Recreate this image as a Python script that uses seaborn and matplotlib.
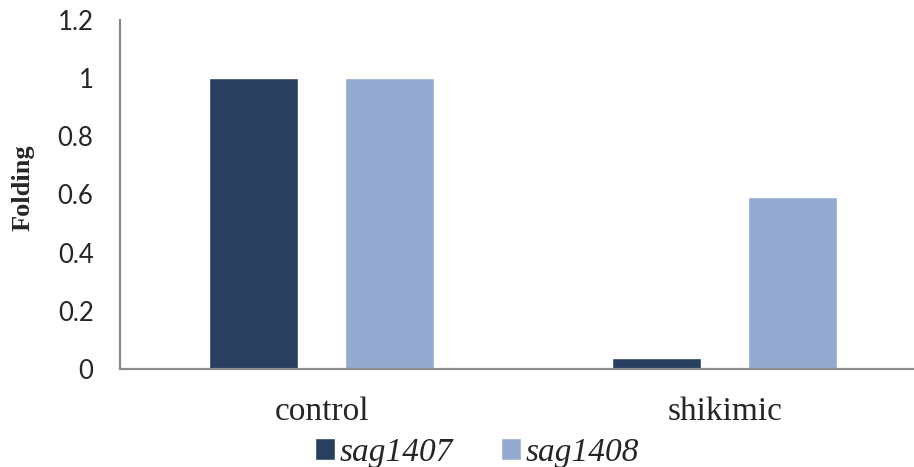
import matplotlib
matplotlib.use("Agg")
import matplotlib.pyplot as plt
import seaborn as sns
import pandas as pd

categories = ["control", "shikimic"]
series_names = ["sag1407", "sag1408"]
sag1407 = [1.0, 0.038]
sag1408 = [1.0, 0.593]
yticks = [0, 0.2, 0.4, 0.6, 0.8, 1.0, 1.2]
ytick_labels = ["0", "0.2", "0.4", "0.6", "0.8", "1", "1.2"]

df = pd.DataFrame({
    "category": categories * 2,
    "gene": [series_names[0]] * 2 + [series_names[1]] * 2,
    "value": sag1407 + sag1408,
})

sns.set_theme(style="white")
plt.rcParams["font.family"] = ["Liberation Serif", "DejaVu Serif"]

fig = plt.figure(figsize=(9.14, 4.67), dpi=100)
ax = fig.add_axes([120 / 914, 1 - 369 / 467, 794 / 914, 349 / 467])

palette = {"sag1407": "#283F5F", "sag1408": "#95AAD1"}
sns.barplot(data=df, x="category", y="value", hue="gene", order=categories,
            hue_order=series_names, palette=palette, width=0.676, gap=0.35,
            saturation=1, ax=ax, legend=True)

ax.set_xlim(-0.5, 1.47)
ax.set_ylim(0, 1.2)
ax.set_yticks(yticks)
ax.set_yticklabels(ytick_labels, fontfamily="Lato", fontsize=18.5)
ax.tick_params(axis="y", length=0, pad=19)
ax.tick_params(axis="x", length=0, pad=20, labelsize=24)
for lab in ax.get_xticklabels():
    lab.set_fontfamily("Liberation Serif")

ax.set_xlabel("")
ax.set_ylabel("Folding", fontsize=19, fontweight="bold", fontfamily="Liberation Serif")
ax.yaxis.set_label_coords(-0.108, 0.52)

for s in ["top", "right"]:
    ax.spines[s].set_visible(False)
for s in ["left", "bottom"]:
    ax.spines[s].set_color("#8C8C8C")
    ax.spines[s].set_linewidth(1.6)

handles, labels = ax.get_legend_handles_labels()
ax.get_legend().remove()
fig.legend(handles, labels, loc="lower center", bbox_to_anchor=(477 / 914, -0.066),
           ncol=2, frameon=False, handlelength=0.6, handleheight=0.6,
           handletextpad=0.12, columnspacing=1.45,
           prop={"family": "Liberation Serif", "style": "italic", "size": 24})

fig.savefig("out.png", dpi=100)
